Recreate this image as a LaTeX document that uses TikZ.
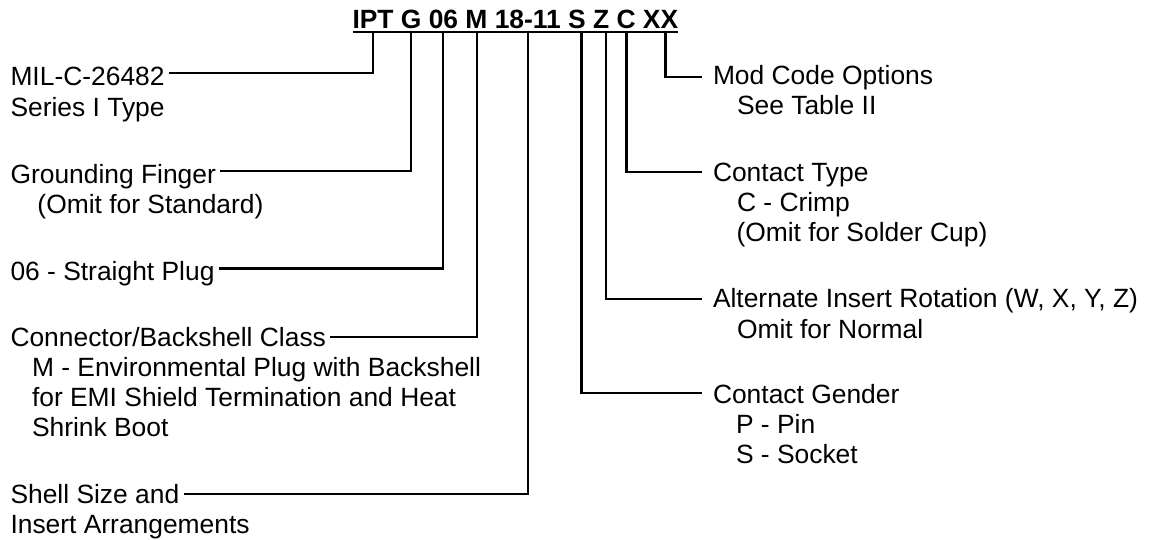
\documentclass[tikz,border=0pt]{standalone}
\usepackage{fontspec}
\setmainfont{Liberation Sans}
\usetikzlibrary{calc}
\begin{document}
\begin{tikzpicture}[x=1pt,y=-1pt,
  lbl/.style={anchor=base west,inner sep=0pt,outer sep=0pt,font=\fontsize{26.4}{30}\selectfont},
  code/.style={anchor=base west,inner sep=0pt,outer sep=0pt,font=\fontsize{26.4}{30}\selectfont\bfseries},
  conn/.style={line width=2.1pt}]
\useasboundingbox (0,0) rectangle (1152,540);
% part number
\node[code] (pn) at (352.5,28.3) {IPT G 06 M 18-11 S Z C XX};
\draw[conn] ($(pn.base west)+(0,3.4)$) -- ($(pn.base east)+(0,3.4)$);
% taps on the underline
\coordinate (tIPT) at (373,31.7);
\coordinate (tG) at (410.7,31.7);
\coordinate (t06) at (443.3,31.7);
\coordinate (tM) at (477,31.7);
\coordinate (tSZ) at (528.3,31.7);
\coordinate (tS) at (581.5,31.7);
\coordinate (tZ) at (606,31.7);
\coordinate (tC) at (626.5,31.7);
\coordinate (tXX) at (665.5,31.7);
% left labels
\node[lbl] (mil) at (10.5,86) {MIL-C-26482};
\node[lbl] (ser) at (10.5,116.5) {Series I Type};
\node[lbl] (gnd) at (10.5,183.3) {Grounding Finger};
\node[lbl] (gnd2) at (37.5,213.5) {(Omit for Standard)};
\node[lbl] (str) at (10.5,280) {06 - Straight Plug};
\node[lbl] (cls) at (10.5,346) {Connector/Backshell Class};
\node[lbl] (cls2) at (32,376) {M - Environmental Plug with Backshell};
\node[lbl] (cls3) at (32,406) {for EMI Shield Termination and Heat};
\node[lbl] (cls4) at (32,436) {Shrink Boot};
\node[lbl] (shl) at (10.5,503) {Shell Size and};
\node[lbl] (shl2) at (10.5,533) {Insert Arrangements};
% right labels
\node[lbl] (mod) at (713,85) {Mod Code Options};
\node[lbl] (mod2) at (737,115) {See Table II};
\node[lbl] (ct) at (713,181.5) {Contact Type};
\node[lbl] (ct2) at (737,211.5) {C - Crimp};
\node[lbl] (ct3) at (736.5,241.5) {(Omit for Solder Cup)};
\node[lbl] (rot) at (713,308) {Alternate Insert Rotation (W, X, Y, Z)};
\node[lbl] (rot2) at (737,338) {Omit for Normal};
\node[lbl] (gen) at (713,403) {Contact Gender};
\node[lbl] (gen2) at (736,433.5) {P - Pin};
\node[lbl] (gen3) at (736,463.5) {S - Socket};
% left connectors
\draw[conn] ($(mil.base east)+(4.5,-12.7)$) -| (tIPT);
\draw[conn] ($(gnd.base east)+(4.5,-12)$) -| (tG);
\draw[conn] ($(str.base east)+(4.5,-11.5)$) -| (t06);
\draw[conn] ($(cls.base east)+(4.5,-9)$) -| (tM);
\draw[conn] ($(shl.base east)+(4.5,-9)$) -| (tSZ);
% right connectors
\draw[conn] (tXX) |- ($(mod.base west)+(-11,-8.3)$);
\draw[conn] (tC) |- ($(ct.base west)+(-11,-9.5)$);
\draw[conn] (tZ) |- ($(rot.base west)+(-11,-9)$);
\draw[conn] (tS) |- ($(gen.base west)+(-11,-10)$);
\end{tikzpicture}
\end{document}
